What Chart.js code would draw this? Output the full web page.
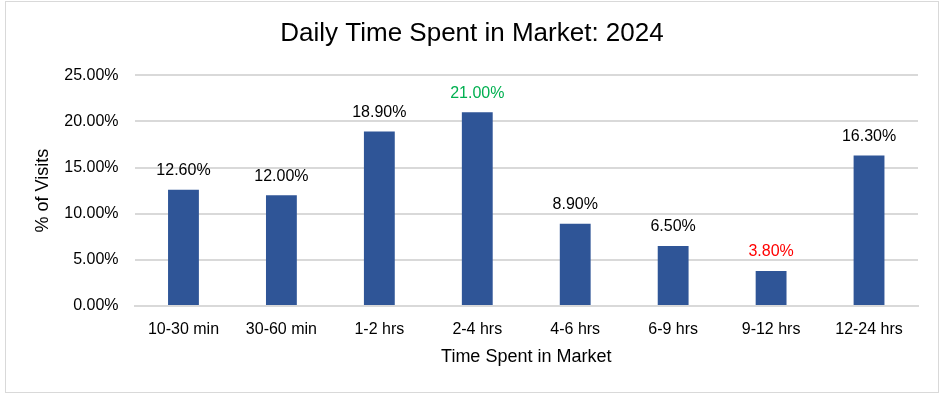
<!DOCTYPE html>
<html>
<head>
<meta charset="utf-8">
<script src="https://cdn.jsdelivr.net/npm/chart.js@4.4.1/dist/chart.umd.min.js"></script>
<style>
  html, body { margin: 0; padding: 0; background: #fff; }
  #box { position: absolute; left: 5px; top: 1px; width: 932px; height: 390px; border: 1px solid #d9d9d9; background: #fff; }
  #wrap { position: relative; width: 932px; height: 390px; }
</style>
</head>
<body>
<div id="box"><div id="wrap"><canvas id="c"></canvas></div></div>
<script>
const titleText = 'Daily Time Spent in Market: 2024';
const categories = ['10-30 min', '30-60 min', '1-2 hrs', '2-4 hrs', '4-6 hrs', '6-9 hrs', '9-12 hrs', '12-24 hrs'];
const visitsPct = [12.6, 12.0, 18.9, 21.0, 8.9, 6.5, 3.8, 16.3];
const labelColors = ['#000000', '#000000', '#000000', '#00B050', '#000000', '#000000', '#FF0000', '#000000'];
const yTickValues = [0, 5, 10, 15, 20, 25];
const xTitle = 'Time Spent in Market';
const yTitle = '% of Visits';

const FONT = "'Liberation Sans', Arial, sans-serif";

const dataLabels = {
  id: 'dataLabels',
  afterDatasetsDraw(chart) {
    const ctx = chart.ctx;
    const meta = chart.getDatasetMeta(0);
    ctx.save();
    ctx.font = '16px ' + FONT;
    ctx.textAlign = 'center';
    ctx.textBaseline = 'middle';
    meta.data.forEach((bar, i) => {
      ctx.fillStyle = labelColors[i];
      ctx.fillText(visitsPct[i].toFixed(2) + '%', bar.x, bar.y - 19);
    });
    ctx.restore();
  }
};

new Chart(document.getElementById('c'), {
  type: 'bar',
  data: {
    labels: categories,
    datasets: [{
      data: visitsPct,
      backgroundColor: '#2F5597',
      barPercentage: 0.315,
      categoryPercentage: 1.0
    }]
  },
  options: {
    responsive: true,
    maintainAspectRatio: false,
    animation: false,
    layout: { padding: { left: 20, right: 20, top: 0, bottom: 0 } },
    plugins: {
      legend: { display: false },
      tooltip: { enabled: false },
      title: {
        display: true,
        text: titleText,
        color: '#000',
        font: { family: FONT, size: 26, weight: 'normal' },
        padding: { top: 16, bottom: 26 }
      }
    },
    scales: {
      x: {
        grid: { display: false, drawTicks: false },
        border: { display: true, color: '#d9d9d9', width: 2 },
        ticks: { color: '#000', font: { family: FONT, size: 16 }, padding: 14, maxRotation: 0, autoSkip: false },
        title: { display: true, text: xTitle, color: '#000', font: { family: FONT, size: 18 }, padding: { top: 0, bottom: 24 } },
        afterFit(scale) { scale.height = 86; }
      },
      y: {
        min: 0, max: 25,
        afterBuildTicks(scale) { scale.ticks = yTickValues.map(v => ({ value: v })); },
        grid: { color: '#d9d9d9', lineWidth: 2, drawTicks: false },
        border: { display: false },
        ticks: { color: '#000', font: { family: FONT, size: 16 }, padding: 16, callback: v => Number(v).toFixed(2) + '%' },
        title: { display: true, text: yTitle, color: '#000', font: { family: FONT, size: 18 }, padding: { top: 6, bottom: 0 } },
        afterFit(scale) { scale.width = 108.5; }
      }
    }
  },
  plugins: [dataLabels]
});
</script>
</body>
</html>
